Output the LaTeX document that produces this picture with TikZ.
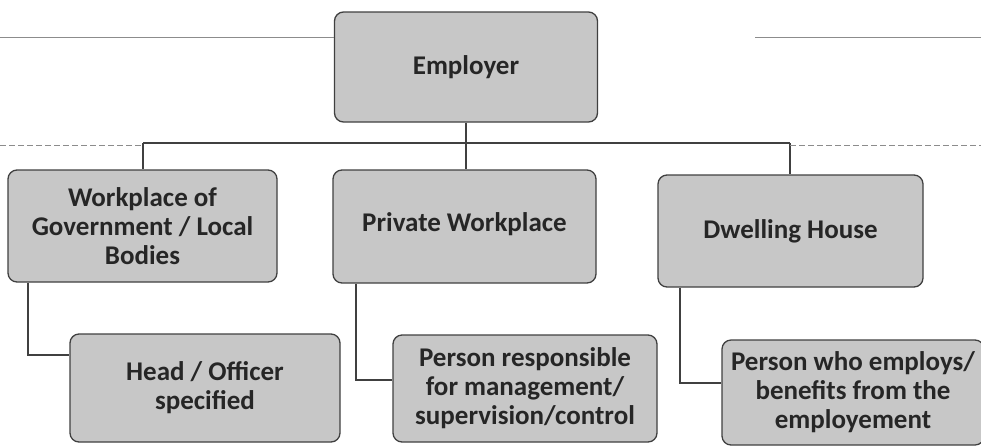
\documentclass[tikz,border=0pt]{standalone}
\usepackage{fontspec}
\setmainfont{Carlito}
\begin{document}
\begin{tikzpicture}[x=1pt,y=-1pt,
  box/.style={draw=black!75, line width=1.3pt, rounded corners=9pt, fill=black!22,
    font=\bfseries\fontsize{27}{29}\selectfont, text=black!85, align=center, inner sep=0pt},
  conn/.style={draw=black!75, line width=1.2pt},
  faint/.style={draw=black!45, line width=0.9pt}]
\useasboundingbox (0,0) rectangle (981,445);
% boxes
\node[box, minimum width=263pt, minimum height=110pt] (emp) at (466,67) {Employer};
\node[box, minimum width=269pt, minimum height=112pt] (gov) at (142.5,226) {Workplace of\\Government / Local\\Bodies};
\node[box, minimum width=263pt, minimum height=113pt] (pvt) at (464.5,226.5) {\raisebox{8pt}{Private Workplace}};
\node[box, minimum width=265pt, minimum height=112pt] (dwl) at (790.5,231) {\raisebox{3pt}{Dwelling House}};
\node[box, minimum width=270pt, minimum height=108pt] (head) at (205,388) {Head / Officer\\specified};
\node[box, minimum width=264pt, minimum height=107pt] (resp) at (525,388.5) {Person responsible\\for management/\\supervision/control};
\node[box, minimum width=262pt, minimum height=105pt] (who) at (853,392.5) {Person who employs/\\benefits from the\\employement};
% bus
\coordinate (bus) at (466,143);
\coordinate (busL) at (143,143);
\coordinate (busR) at (790,143);
\draw[conn] (emp.south) -- (bus);
\draw[conn] (busL) -- (busR);
\draw[conn] (busL) -- (busL |- gov.north);
\draw[conn] (bus) -- (pvt.north -| bus);
\draw[conn] (busR) -- (busR |- dwl.north);
% elbows
\coordinate (e1) at (28,355);
\coordinate (e2) at (356,380);
\coordinate (e3) at (680,383);
\draw[conn] (gov.south -| e1) -- (e1) -- (e1 -| head.west);
\draw[conn] (pvt.south -| e2) -- (e2) -- (e2 -| resp.west);
\draw[conn] (dwl.south -| e3) -- (e3) -- (e3 -| who.west);
% faint scan lines
\coordinate (f1) at (0,37); \coordinate (f2) at (755,37); \coordinate (f3) at (981,37);
\coordinate (f4) at (0,145); \coordinate (f5) at (981,145);
\draw[faint] (f1) -- (f1 -| emp.west);
\draw[faint] (f2) -- (f3);
\draw[faint, dash pattern=on 6pt off 3pt] (f4) -- (f4 -| busL);
\draw[faint, dash pattern=on 6pt off 3pt] (f5 -| busR) -- (f5);
\end{tikzpicture}
\end{document}
